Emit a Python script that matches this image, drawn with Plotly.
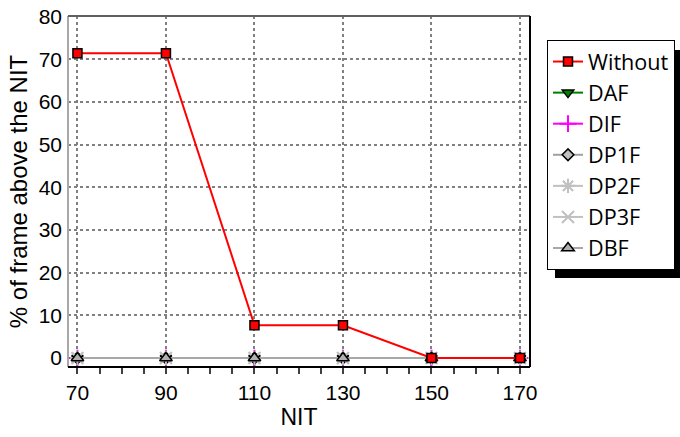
import plotly.graph_objects as go

nit = [70, 90, 110, 130, 150, 170]
without = [71.43, 71.43, 7.69, 7.69, 0, 0]
daf = [0, 0, 0, 0, 0, 0]
dif = [0, 0, 0, 0, 0, 0]
dp1f = [0, 0, 0, 0, 0, 0]
dp2f = [0, 0, 0, 0, 0, 0]
dp3f = [0, 0, 0, 0, 0, 0]
dbf = [0, 0, 0, 0, 0, 0]

x_ticks = [70, 90, 110, 130, 150, 170]
y_ticks = [0, 10, 20, 30, 40, 50, 60, 70, 80]

FONT = "Liberation Sans, Arial, sans-serif"
LFONT = "Open Sans, Liberation Sans, sans-serif"

fig = go.Figure()
series = [
    ("DAF", daf, "green", dict(symbol="triangle-down", color="green", size=10, line=dict(color="black", width=1.5))),
    ("DIF", dif, "magenta", dict(symbol="cross-thin-open", color="magenta", size=12, line=dict(color="magenta", width=2))),
    ("DP1F", dp1f, "#a0a0a0", dict(symbol="diamond", color="#c0c0c0", size=9, line=dict(color="black", width=1.5))),
    ("DP2F", dp2f, "#c0c0c0", dict(symbol="asterisk-open", color="#c0c0c0", size=12, line=dict(color="#c0c0c0", width=2))),
    ("DP3F", dp3f, "#c0c0c0", dict(symbol="x-thin-open", color="#c0c0c0", size=12, line=dict(color="#c0c0c0", width=2))),
    ("DBF", dbf, "#a8a8a8", dict(symbol="triangle-up", color="#b0b0b0", size=11, line=dict(color="black", width=1.5))),
    ("Without", without, "red", dict(symbol="square", color="red", size=9, line=dict(color="black", width=1.5))),
]
ranks = {"Without": 1, "DAF": 2, "DIF": 3, "DP1F": 4, "DP2F": 5, "DP3F": 6, "DBF": 7}
for name, vals, lc, mk in series:
    fig.add_trace(go.Scatter(x=nit, y=vals, name=name, mode="lines+markers", legendrank=ranks[name],
                             line=dict(color=lc, width=2), marker=mk, cliponaxis=False))

W, H = 680, 437
L, R, T, B = 68, 530, 16, 367

def px(x):
    return (x - L) / (R - L)

def py(y):
    return (B - y) / (B - T)

shapes = [
    # legend shadow
    dict(type="rect", xref="paper", yref="paper", x0=px(555), x1=px(690), y0=py(278), y1=py(50),
         fillcolor="black", line=dict(width=0), layer="above"),
    # frame
    dict(type="line", xref="paper", yref="paper", x0=0, x1=0, y0=0, y1=1, line=dict(color="#a8a8a8", width=2)),
    dict(type="line", xref="paper", yref="paper", x0=0, x1=1, y0=1, y1=1, line=dict(color="#606060", width=2)),
    dict(type="line", xref="paper", yref="paper", x0=1, x1=1, y0=0, y1=1, line=dict(color="black", width=2)),
    dict(type="line", xref="paper", yref="paper", x0=0, x1=1, y0=0, y1=0, line=dict(color="black", width=2)),
]

fig.update_layout(
    width=W, height=H,
    margin=dict(l=L, r=W - R, t=T, b=H - B, autoexpand=False),
    paper_bgcolor="white", plot_bgcolor="white",
    font=dict(family=FONT, size=21, color="black"),
    shapes=shapes,
    showlegend=True,
    legend=dict(x=px(547), y=py(40), xanchor="left", yanchor="top",
                bordercolor="black", borderwidth=1, bgcolor="white",
                font=dict(family=LFONT, size=21.6), itemwidth=30, tracegroupgap=0),
    xaxis=dict(range=[67.87, 172.26], tickvals=x_ticks, ticktext=[str(v) for v in x_ticks],
               showgrid=True, gridcolor="#808080", griddash="dot", gridwidth=1.5,
               zeroline=False, showline=False, ticks="outside", ticklen=7, tickcolor="rgba(0,0,0,0)",
               minor=dict(dtick=5, tick0=70, ticks="outside", ticklen=6, tickwidth=2, tickcolor="#404040", showgrid=False),
               title=dict(text="NIT", font=dict(size=23), standoff=5)),
    yaxis=dict(range=[-2.1, 80.15], tickvals=y_ticks, ticktext=[str(v) for v in y_ticks],
               showgrid=True, gridcolor="#808080", griddash="dot", gridwidth=1.5,
               zeroline=False, showline=False, ticks="", ticklabelstandoff=5,
               ticklabeloverflow="allow",
               title=dict(text="% of frame above the NIT", font=dict(size=24), standoff=4)),
)

fig.write_html("out.html", config={"displayModeBar": False},
               post_script="document.body.style.margin='0';document.body.style.overflow='hidden';")
